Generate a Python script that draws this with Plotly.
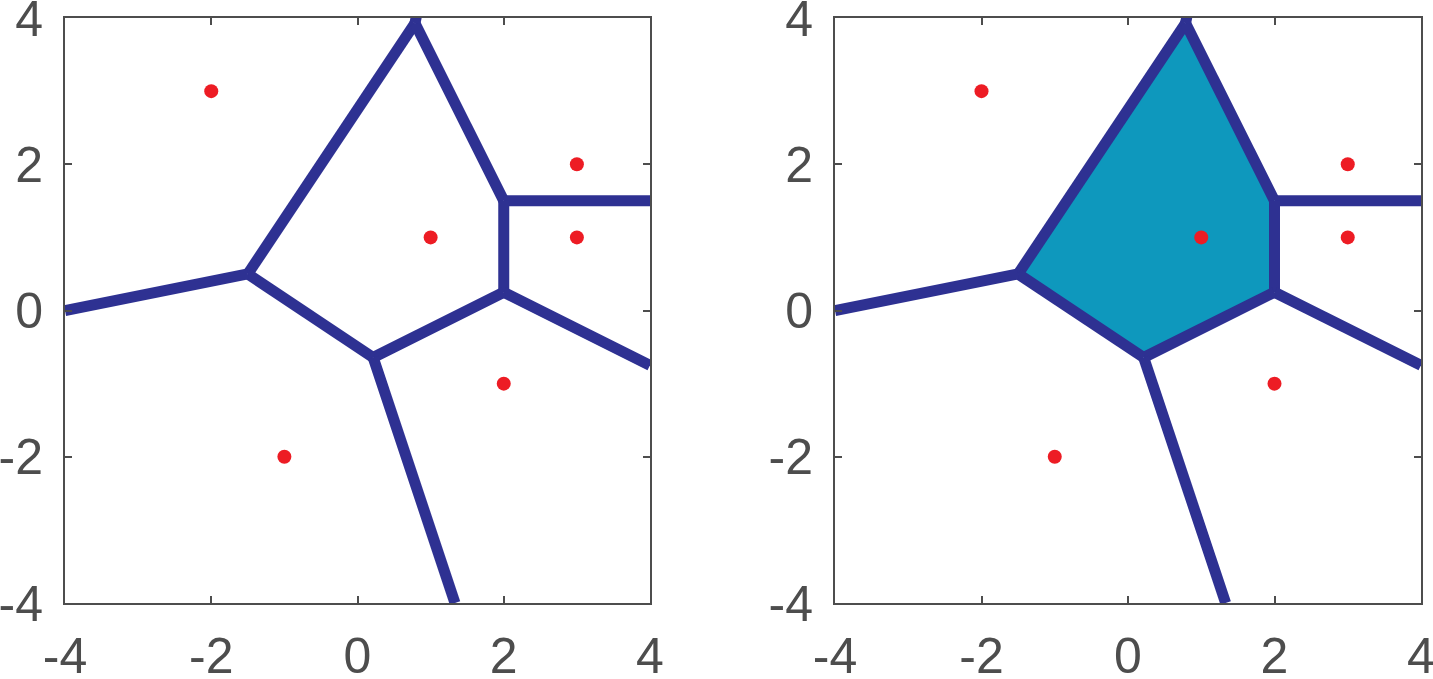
import plotly.graph_objects as go

# Sites (red points)
site_x = [-2, 3, 1, 3, 2, -1]
site_y = [3, 2, 1, 1, -1, -2]

# Voronoi edges (segments separated by None), rays run to the box edge
edge_x = [-1.5, 0.786, None, 0.786, 2.0, None, 0.786, 0.9, None,
          2.0, 4.0, None, 2.0, 2.0, None, 2.0, 4.0, None,
          2.0, 0.214, None, 0.214, -1.5, None, 0.214, 1.333, None,
          -1.5, -4.0]
edge_y = [0.5, 3.929, None, 3.929, 1.5, None, 3.929, 4.5, None,
          1.5, 1.5, None, 1.5, 0.25, None, 0.25, -0.75, None,
          0.25, -0.643, None, -0.643, 0.5, None, -0.643, -4.0, None,
          0.5, 0.0]

# Highlighted cell around site (1, 1)
cell_x = [-1.5, 0.786, 2.0, 2.0, 0.214, -1.5]
cell_y = [0.5, 3.929, 1.5, 0.25, -0.643, 0.5]

ticks = [-4, -2, 0, 2, 4]

LINE = "#2e3192"
FILL = "#0e98bd"
DOT = "#ed1c24"
AX = "#4d4d4d"

fig = go.Figure()

for k, ax in enumerate(["", "2"]):
    xa, ya = "x" + ax, "y" + ax
    if k == 1:
        fig.add_trace(go.Scatter(x=cell_x, y=cell_y, mode="lines", fill="toself",
                                 fillcolor=FILL, line=dict(width=0, color=FILL),
                                 xaxis=xa, yaxis=ya, hoverinfo="skip", showlegend=False))
    fig.add_trace(go.Scatter(x=edge_x, y=edge_y, mode="lines",
                             line=dict(color=LINE, width=11),
                             xaxis=xa, yaxis=ya, showlegend=False))
    fig.add_trace(go.Scatter(x=site_x, y=site_y, mode="markers",
                             marker=dict(color=DOT, size=14, line=dict(width=0)),
                             xaxis=xa, yaxis=ya, showlegend=False))

W, H = 1433, 679
ydom = [(H - 603) / H, (H - 18) / H]
doms = [[65 / W, 650 / W], [835 / W, 1421 / W]]

common = dict(range=[-4, 4], tickvals=ticks, ticktext=[str(t) for t in ticks],
              showgrid=False, zeroline=False, showline=True, mirror="ticks",
              linecolor=AX, linewidth=2, ticks="inside", ticklen=7, tickwidth=2,
              tickcolor=AX, tickfont=dict(family="Liberation Sans, Arial", size=50, color=AX),
              ticklabeloverflow="allow",
              fixedrange=True, automargin=False)

fig.update_layout(
    width=W, height=H,
    margin=dict(l=0, r=0, t=0, b=0),
    paper_bgcolor="white", plot_bgcolor="white",
    xaxis=dict(domain=doms[0], anchor="y", ticklabelstandoff=8, **common),
    yaxis=dict(domain=ydom, anchor="x", ticklabelstandoff=10, **common),
    xaxis2=dict(domain=doms[1], anchor="y2", ticklabelstandoff=8, **common),
    yaxis2=dict(domain=ydom, anchor="x2", ticklabelstandoff=10, **common),
)

fig.write_html("out.html", config={"displayModeBar": False},
               post_script="document.body.style.margin='0';document.body.style.overflow='hidden';")
